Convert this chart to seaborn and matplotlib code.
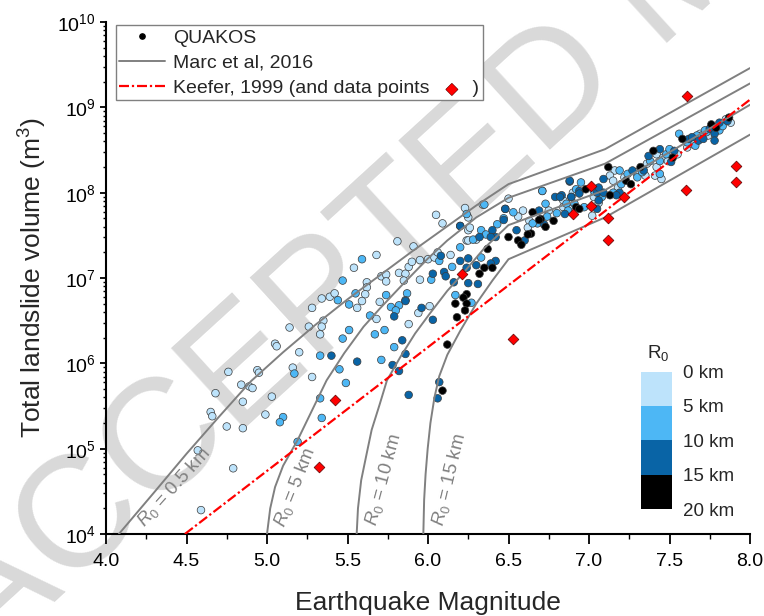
import numpy as np
import pandas as pd
import matplotlib
matplotlib.use("Agg")
import matplotlib.pyplot as plt
import seaborn as sns
from matplotlib.colors import ListedColormap, BoundaryNorm
from matplotlib.lines import Line2D
from matplotlib.ticker import MultipleLocator, LogLocator, LogFormatterSciNotation, NullFormatter
import matplotlib.colorbar as mcolorbar
import matplotlib.patheffects as pe

# ---------------- data (magnitude, log10 volume) ----------------
# QUAKOS events, grouped by R0 class
l_mag = [4.85, 4.65, 4.66, 4.75, 4.85, 4.99, 4.57, 4.79, 4.59, 4.68, 4.84, 4.89, 4.91, 5.03,
         6.05, 6.09, 5.81, 5.91, 5.68, 5.54, 5.62, 5.62, 5.61, 5.71, 5.74, 5.74, 5.82, 5.86, 5.88, 5.90,
         5.95, 6.00, 6.04, 6.06, 6.14, 5.95, 5.85, 5.70, 5.68, 6.01, 5.94, 5.88, 5.56, 5.59, 5.39, 5.42,
         5.34, 5.28, 5.35, 5.34, 5.33, 5.26, 5.14, 5.05, 5.06, 5.20, 5.16, 4.94, 4.95, 4.76, 5.28, 6.25,
         6.23, 6.24,
         6.50, 6.59, 6.56, 6.71, 6.84, 6.75, 6.63, 6.62, 6.30, 6.25, 6.26,
         6.90, 6.84, 6.91, 6.88, 7.03, 7.16, 7.13, 7.15, 7.18, 7.22, 7.29, 7.06, 7.02, 7.36, 7.42, 7.46,
         7.49, 7.55, 7.42, 7.45, 7.41, 7.35, 7.61, 7.64, 7.88, 7.85, 7.74, 7.69,
         6.34, 6.25]
l_logv = [5.55, 5.43, 5.38, 5.26, 5.24, 5.40, 4.98, 4.77, 4.28, 5.65, 5.75, 5.73, 5.71, 5.61,
          7.74, 7.64, 7.43, 7.37, 7.27, 7.12, 6.95, 6.89, 6.81, 7.02, 7.04, 6.96, 7.06, 7.05, 7.13, 7.19,
          7.21, 7.22, 7.24, 7.30, 7.27, 6.98, 6.97, 6.72, 6.52, 6.67, 6.59, 6.46, 6.65, 6.73, 6.78, 6.82,
          6.76, 6.65, 6.50, 6.43, 6.34, 6.43, 6.42, 6.23, 6.20, 6.13, 5.95, 5.92, 5.89, 5.90, 5.84, 7.56,
          7.82, 7.44,
          7.93, 7.79, 7.72, 8.02, 7.83, 7.79, 7.67, 7.59, 7.45, 7.44, 7.59,
          8.00, 7.91, 7.83, 7.81, 7.95, 8.26, 8.20, 8.14, 8.06, 8.18, 8.24, 7.88, 7.73, 8.34, 8.45, 8.41,
          8.37, 8.45, 8.30, 8.16, 8.20, 8.20, 8.53, 8.57, 8.82, 8.86, 8.67, 8.69,
          7.86, 7.71]

m_mag = [5.10, 5.08, 5.34, 5.19, 5.33, 5.49,
         5.59, 5.47, 6.07, 6.15, 6.02, 5.87, 5.82, 5.77, 5.74, 5.64, 5.73, 5.67, 5.51, 5.47, 5.51, 5.55,
         5.44, 5.33, 5.45, 5.71, 5.79, 5.17, 6.24, 6.20, 6.17,
         6.35, 6.53, 6.73, 6.80, 6.74, 6.68, 6.65, 6.43, 6.33, 6.36, 6.28, 6.33, 6.27, 5.80, 5.86,
         6.95, 6.92, 6.86, 6.91, 6.97, 6.87, 7.08, 7.03, 7.19, 7.20, 7.24, 7.30, 7.15, 7.38, 7.48, 7.50,
         7.44, 7.44, 7.33, 7.56, 7.60, 7.66, 7.70, 7.73, 7.77, 7.81, 7.83, 7.72, 7.67, 7.61,
         6.47, 6.71]
m_logv = [5.37, 5.31, 5.36, 5.08, 5.59, 5.77,
          7.22, 6.97, 7.20, 7.13, 6.98, 6.82, 6.68, 6.66, 6.80, 6.56, 6.39, 6.34, 6.39, 6.29, 6.69, 6.82,
          6.74, 6.09, 5.93, 6.04, 6.19, 5.88, 7.75, 7.36, 6.80,
          7.86, 7.77, 7.87, 7.76, 7.72, 7.64, 7.64, 7.63, 7.56, 7.51, 7.45, 7.24, 6.71, 6.62, 6.74,
          8.12, 8.04, 7.87, 7.87, 7.83, 7.79, 7.95, 8.02, 8.26, 8.10, 8.22, 8.18, 8.00, 8.37, 8.45, 8.51,
          8.37, 8.22, 8.24, 8.69, 8.61, 8.55, 8.67, 8.71, 8.75, 8.73, 8.78, 8.73, 8.67, 8.59,
          7.70, 8.02]

d_mag = [6.06, 5.88, 6.07,
         6.20, 6.08, 6.20, 6.03, 6.10, 6.11, 6.16, 5.86, 5.79, 5.96, 6.03, 5.84, 5.40, 5.56, 5.78, 5.82,
         5.86, 6.24,
         6.48, 6.69, 6.79, 6.83, 6.88, 6.89, 6.94, 6.72, 6.55, 6.60, 6.47, 6.40, 6.42, 6.39, 6.32, 6.30,
         6.42, 6.39, 6.25, 6.31, 6.25,
         6.88, 6.82, 6.89, 6.94, 6.85, 7.05, 7.06, 7.09, 7.09, 7.06, 7.19, 7.27, 7.17, 7.05, 7.34, 7.37,
         7.44, 7.53, 7.51, 7.62, 7.68, 7.71, 7.75, 7.78, 7.78, 7.86, 7.81, 7.64,
         6.20, 6.48]
d_logv = [5.59, 5.63, 5.78,
          7.61, 7.26, 7.20, 7.05, 7.07, 7.02, 6.95, 6.73, 6.55, 6.65, 6.51, 6.27, 6.09, 6.02, 5.98, 5.91,
          6.11, 7.12,
          7.81, 7.79, 7.95, 7.97, 8.13, 7.95, 8.02, 7.63, 7.56, 7.44, 7.68, 7.56, 7.48, 7.48, 7.48, 7.15,
          7.20, 7.17, 6.94, 6.93, 7.23,
          8.14, 7.95, 7.95, 7.99, 7.75, 8.00, 7.91, 8.00, 8.16, 8.06, 8.00, 8.26, 7.97, 7.81, 8.26, 8.43,
          8.51, 8.49, 8.36, 8.63, 8.61, 8.63, 8.75, 8.69, 8.61, 8.84, 8.82, 8.65,
          7.61, 7.81]

k_mag = [6.09, 6.12,
         6.65, 6.92, 6.70, 6.69, 6.78, 6.73, 6.64, 6.62, 6.50, 6.56, 6.58, 6.37, 6.35, 6.40, 6.32, 6.24,
         6.22, 6.24, 6.17, 6.23, 6.18,
         6.98, 6.94, 7.12, 7.23, 7.26, 7.13, 7.32, 7.40, 7.52, 7.58, 7.76, 7.79, 7.87]
k_logv = [5.68, 6.22,
          7.77, 7.83, 7.69, 7.68, 7.67, 7.60, 7.52, 7.51, 7.48, 7.44, 7.39, 7.34, 7.12, 7.12, 7.05, 6.81,
          6.77, 6.70, 6.70, 6.62, 6.54,
          8.04, 7.81, 8.30, 8.14, 8.10, 7.97, 8.30, 8.49, 8.41, 8.63, 8.80, 8.76, 8.88]

r0_classes = ["0-5 km", "5-10 km", "10-15 km", "15-20 km"]
r0_colors = ["#BDE3FB", "#4DB7F5", "#0964A6", "#000000"]

# Keefer (1999) data points and regression line
keefer_mag = [5.32, 5.42, 6.21, 6.53, 6.90, 7.01, 7.01, 7.12, 7.12, 7.22, 7.61, 7.60, 7.91, 7.91]
keefer_logv = [4.78, 5.57, 7.05, 6.28, 7.75, 8.08, 7.84, 7.70, 7.44, 7.95, 9.13, 8.03, 8.31, 8.13]
keefer_line_mag = [4.49, 8.00]
keefer_line_logv = [4.00, 9.09]

# Marc et al. (2016) model curves for several R0
marc_r05_mag = [4.08, 4.3, 4.5, 4.7, 4.9, 5.1, 5.3, 5.5, 5.7, 5.9, 6.1, 6.3, 6.5, 7.1, 8.0]
marc_r05_logv = [4.00, 4.49, 4.94, 5.37, 5.79, 6.13, 6.45, 6.75, 7.03, 7.31, 7.58, 7.85, 8.10, 8.51, 9.46]
marc_r5_mag = [5.00, 5.02, 5.05, 5.10, 5.19, 5.28, 5.37, 5.48, 5.60, 5.70, 5.83, 6.00, 6.12, 6.30, 6.50, 7.10, 8.0]
marc_r5_logv = [4.00, 4.30, 4.55, 4.80, 5.10, 5.45, 5.80, 6.12, 6.43, 6.64, 6.90, 7.23, 7.44, 7.71, 7.94, 8.34, 9.28]
marc_r10_mag = [5.557, 5.565, 5.585, 5.62, 5.65, 5.70, 5.745, 5.83, 5.92, 6.01, 6.12, 6.22, 6.35, 6.50, 7.10, 8.0]
marc_r10_logv = [4.00, 4.30, 4.63, 4.95, 5.22, 5.52, 5.80, 6.08, 6.35, 6.58, 6.85, 7.06, 7.35, 7.62, 8.03, 9.03]
marc_r15_mag = [5.971, 5.976, 5.985, 5.998, 6.015, 6.04, 6.07, 6.12, 6.20, 6.30, 6.40, 6.50, 7.10, 8.0]
marc_r15_logv = [4.00, 4.40, 4.70, 5.00, 5.30, 5.60, 5.85, 6.10, 6.38, 6.70, 6.97, 7.22, 7.71, 8.68]

curve_labels = ["$\\mathit{R}_0$ = 0.5 km", "$\\mathit{R}_0$ = 5 km", "$\\mathit{R}_0$ = 10 km", "$\\mathit{R}_0$ = 15 km"]
curve_label_mag = [4.24, 5.11, 5.68, 6.095]
curve_label_logv = [4.07, 4.07, 4.085, 4.085]
curve_label_rot = [48, 68.5, 75, 76.5]

# ---------------- style ----------------
sns.set_theme(style="white")
plt.rcParams['font.family'] = ['Liberation Sans', 'DejaVu Sans']
plt.rcParams['mathtext.fontset'] = 'custom'
plt.rcParams['mathtext.rm'] = 'Liberation Sans'
plt.rcParams['mathtext.it'] = 'Liberation Sans:italic'
plt.rcParams['mathtext.default'] = 'regular'

fig = plt.figure(figsize=(7.64, 6.16), dpi=100)

# watermark
fig.text(-0.015, -0.075, "ACCEPTED MANUSCRIPT", rotation=42.4, rotation_mode='anchor',
         ha='left', va='baseline', fontsize=114, color='#d9d9d9', zorder=-5)

ax = fig.add_axes([106 / 764, (616 - 534) / 616, 644 / 764, 512 / 616])
ax.set_facecolor('none')

# scatter data
frames = []
for mags, lv, cls in [(l_mag, l_logv, r0_classes[0]), (m_mag, m_logv, r0_classes[1]),
                      (d_mag, d_logv, r0_classes[2]), (k_mag, k_logv, r0_classes[3])]:
    frames.append(pd.DataFrame({"mag": mags, "vol": np.power(10.0, lv), "R0": cls}))
quakos = pd.concat(frames, ignore_index=True)

curves = []
for name, mags, lv in [("0.5", marc_r05_mag, marc_r05_logv), ("5", marc_r5_mag, marc_r5_logv),
                       ("10", marc_r10_mag, marc_r10_logv), ("15", marc_r15_mag, marc_r15_logv)]:
    curves.append(pd.DataFrame({"mag": mags, "vol": np.power(10.0, lv), "curve": name}))
marc = pd.concat(curves, ignore_index=True)

ax.set_yscale('log')

sns.scatterplot(data=quakos, x="mag", y="vol", hue="R0", hue_order=r0_classes,
                palette=dict(zip(r0_classes, r0_colors)), s=30, edgecolor='#3a3a3a',
                linewidth=0.5, legend=False, ax=ax, zorder=3)

sns.lineplot(data=marc, x="mag", y="vol", units="curve", estimator=None, sort=False,
             color='#808080', linewidth=1.4, ax=ax, zorder=4, legend=False)

sns.lineplot(x=keefer_line_mag, y=np.power(10.0, keefer_line_logv), color='#ff0000',
             linewidth=1.6, linestyle=(0, (4.5, 1.3, 1.0, 1.3)), ax=ax, zorder=5, legend=False)

sns.scatterplot(x=keefer_mag, y=np.power(10.0, keefer_logv), marker='D', s=30,
                color='#ff0000', edgecolor='#5a0000', linewidth=0.5, ax=ax, zorder=6, legend=False)

for lab, xm, lv, rot in zip(curve_labels, curve_label_mag, curve_label_logv, curve_label_rot):
    ax.text(xm, 10 ** lv, lab, rotation=rot, rotation_mode='anchor', ha='left', va='baseline',
            color='#808080', fontsize=13.5, zorder=4)

ax.set_xlim(4.0, 8.0)
ax.set_ylim(1e4, 1e10)
ax.xaxis.set_major_locator(MultipleLocator(0.5))
ax.xaxis.set_minor_locator(MultipleLocator(0.25))
ax.xaxis.set_major_formatter(matplotlib.ticker.FormatStrFormatter('%.1f'))
ax.yaxis.set_major_locator(LogLocator(base=10, numticks=20))
ax.yaxis.set_minor_locator(LogLocator(base=10, subs=np.arange(2, 10), numticks=20))
ax.yaxis.set_major_formatter(LogFormatterSciNotation())
ax.yaxis.set_minor_formatter(NullFormatter())

for side in ['top', 'right']:
    ax.spines[side].set_visible(False)
for side in ['left', 'bottom']:
    ax.spines[side].set_color('black')
    ax.spines[side].set_linewidth(1.5)

ax.tick_params(axis='x', which='major', direction='out', length=7, width=1.3,
               labelsize=14, colors='black', pad=6.5, bottom=True)
ax.tick_params(axis='x', which='minor', direction='out', length=3.5, width=1.0,
               colors='black', bottom=True)
ax.tick_params(axis='y', which='major', direction='out', length=4.5, width=1.3,
               labelsize=14, colors='black', pad=3, left=True)
ax.tick_params(axis='y', which='minor', direction='out', length=2.5, width=1.0,
               colors='black', left=True)

ax.set_xlabel("Earthquake Magnitude", fontsize=19, labelpad=15)
ax.set_ylabel("Total landslide volume (m$^3$)", fontsize=19, labelpad=6)
ax.grid(False)

# legend
handles = [Line2D([], [], marker='o', color='black', linestyle='none', markersize=3.8),
           Line2D([], [], color='#808080', linewidth=1.4),
           Line2D([], [], color='#ff0000', linewidth=1.6, linestyle=(0, (4.5, 1.3, 1.0, 1.3)))]
labels = ["QUAKOS", "Marc et al, 2016", "Keefer, 1999 (and data points        )"]
leg = ax.legend(handles, labels, loc='upper left', bbox_to_anchor=(0.0148, 0.994),
                borderaxespad=0, fontsize=14, frameon=True, fancybox=False, framealpha=1,
                edgecolor='#808080', handlelength=2.35, handletextpad=0.4, labelspacing=0.38,
                borderpad=0.2)
leg.get_frame().set_linewidth(1.0)
leg.set_zorder(10)
keefer_text = leg.get_texts()[2]
ax.annotate("\u25C6", xy=(1, 0.45), xycoords=keefer_text, xytext=(-27, 0),
            textcoords='offset pixels', ha='center', va='center', color='#ff0000',
            fontsize=11, family='DejaVu Sans', zorder=11,
            path_effects=[pe.withStroke(linewidth=0.8, foreground='#5a0000')])

# R0 colour key
cax = fig.add_axes([641 / 764, (616 - 509) / 616, 31 / 764, 137.5 / 616])
cmap = ListedColormap(r0_colors)
norm = BoundaryNorm([0, 5, 10, 15, 20], cmap.N)
cb = mcolorbar.ColorbarBase(cax, cmap=cmap, norm=norm, ticks=[0, 5, 10, 15, 20],
                            orientation='vertical')
cb.outline.set_visible(False)
cax.invert_yaxis()
cax.set_yticklabels(["0 km", "5 km", "10 km", "15 km", "20 km"])
cax.tick_params(length=0, pad=8, labelsize=13.5)
cax.text(0.55, 1.06, "R$_0$", transform=cax.transAxes, ha='center', va='bottom', fontsize=13.5)

fig.savefig("out.png", dpi=100)
